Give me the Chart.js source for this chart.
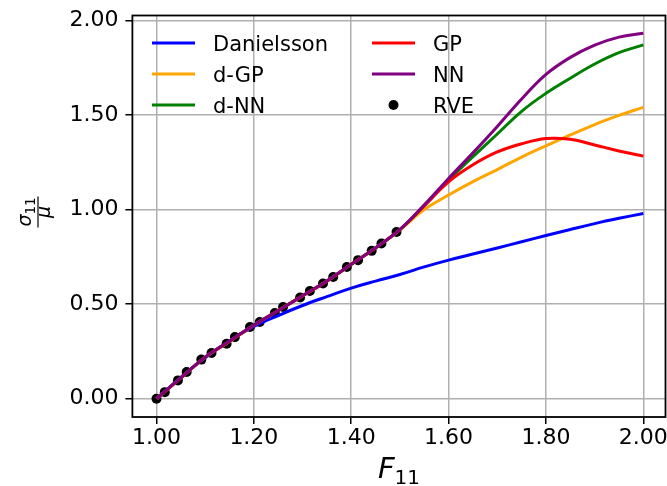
<!DOCTYPE html>
<html><head><meta charset="utf-8">
<script src="https://cdn.jsdelivr.net/npm/chart.js@4.4.0/dist/chart.umd.min.js"></script>
<style>html,body{margin:0;padding:0;background:#fff;overflow:hidden}#wrap{width:667px;height:486px;position:relative;overflow:hidden}canvas{display:block}</style>
</head><body><div id="wrap"><canvas id="c" width="700" height="486"></canvas></div>
<script>
// ---------- data ----------
const F = [1.00,1.05,1.10,1.15,1.20,1.25,1.30,1.35,1.40,1.45,1.50,1.55,1.60,1.65,1.70,1.75,1.80,1.85,1.90,1.95,2.00];
const danielsson = [0.000,0.112,0.216,0.305,0.382,0.440,0.493,0.540,0.585,0.622,0.657,0.697,0.733,0.765,0.797,0.830,0.863,0.895,0.926,0.954,0.980];
const dGP = [0.000,0.110,0.219,0.303,0.389,0.467,0.544,0.623,0.711,0.798,0.893,1.000,1.077,1.148,1.212,1.278,1.337,1.395,1.450,1.498,1.541];
const dNN = [0.000,0.111,0.220,0.304,0.390,0.466,0.545,0.622,0.710,0.797,0.894,1.022,1.156,1.280,1.400,1.520,1.615,1.695,1.770,1.830,1.871];
const GP  = [0.000,0.110,0.220,0.304,0.389,0.467,0.544,0.622,0.711,0.797,0.894,1.020,1.147,1.237,1.305,1.348,1.376,1.372,1.342,1.310,1.283];
const NN  = [0.000,0.111,0.220,0.305,0.390,0.466,0.545,0.623,0.711,0.798,0.895,1.025,1.165,1.300,1.440,1.585,1.715,1.805,1.870,1.912,1.933];
const rveF = [1.000,1.017,1.044,1.062,1.092,1.113,1.144,1.161,1.192,1.212,1.243,1.260,1.295,1.315,1.342,1.363,1.391,1.414,1.442,1.462,1.493];
const rveS = [0.000,0.035,0.097,0.141,0.207,0.242,0.291,0.326,0.379,0.406,0.453,0.485,0.535,0.570,0.609,0.644,0.697,0.733,0.782,0.821,0.882];
const xTicks = [1.00,1.20,1.40,1.60,1.80,2.00];
const yTicks = [0.00,0.50,1.00,1.50,2.00];
const names = ['Danielsson','d-GP','d-NN','GP','NN','RVE'];
const colors = ['#0000ff','#ffa500','#008000','#ff0000','#800080','#000000'];

// ---------- chart ----------
const FONT = 'DejaVu Sans';
const pts = (xs, ys) => xs.map((x, i) => ({x: x, y: ys[i]}));
const lineSets = [danielsson, dGP, dNN, GP, NN];
const datasets = lineSets.map((arr, i) => ({
  label: names[i], data: pts(F, arr), borderColor: colors[i], backgroundColor: colors[i],
  borderWidth: 3, pointRadius: 0, tension: 0.4, fill: false, order: 5 - i
}));
datasets.push({
  label: names[5], data: pts(rveF, rveS), showLine: false, pointRadius: 5,
  pointBackgroundColor: colors[5], pointBorderWidth: 0, borderColor: colors[5], order: 10
});

const deco = {
  id: 'deco',
  afterDatasetsDraw(chart) {
    const {ctx, chartArea: a} = chart;
    ctx.save();
    ctx.strokeStyle = '#000'; ctx.lineWidth = 1.8;
    ctx.strokeRect(a.left, a.top, a.right - a.left, a.bottom - a.top);
    ctx.restore();
  },
  afterDraw(chart) {
    const {ctx, chartArea: a} = chart;
    ctx.save();
    // legend (two columns, no frame)
    chart.data.datasets.forEach((ds, i) => {
      const col = Math.floor(i / 3), row = i % 3;
      const hx = 152 + col * 220, ty = 43 + row * 31;
      if (ds.showLine === false) {
        ctx.fillStyle = ds.pointBackgroundColor;
        ctx.beginPath(); ctx.arc(hx + 21.5, ty, 5, 0, Math.PI * 2); ctx.fill();
      } else {
        ctx.strokeStyle = ds.borderColor; ctx.lineWidth = 3;
        ctx.beginPath(); ctx.moveTo(hx, ty); ctx.lineTo(hx + 43, ty); ctx.stroke();
      }
      ctx.fillStyle = '#000'; ctx.font = '21px "' + FONT + '"';
      ctx.textAlign = 'left'; ctx.textBaseline = 'alphabetic';
      ctx.fillText(ds.label, hx + 61, ty + 7.8);
    });
    // x title: F_11
    const cx = (a.left + a.right) / 2;
    const fBig = 'italic 29px "' + FONT + '"', fSub = '20px "' + FONT + '"';
    ctx.font = fBig; const wF = ctx.measureText('F').width;
    ctx.font = fSub; const wS = ctx.measureText('11').width;
    const x0 = cx - (wF + wS) / 2;
    ctx.fillStyle = '#000'; ctx.textAlign = 'left'; ctx.textBaseline = 'alphabetic';
    ctx.font = fBig; ctx.fillText('F', x0, 478);
    ctx.font = fSub; ctx.fillText('11', x0 + wF, 484);
    // y title: sigma_11 / mu (rotated fraction)
    ctx.translate(38, 212);
    ctx.rotate(-Math.PI / 2);
    const fG = 'italic 19px "' + FONT + '"', fS = '13.5px "' + FONT + '"';
    ctx.font = fG; const wSig = ctx.measureText('σ').width; const wMu = ctx.measureText('μ').width;
    ctx.font = fS; const wSub = ctx.measureText('11').width;
    const numW = wSig + wSub;
    ctx.font = fG; ctx.fillText('σ', -numW / 2, -7);
    ctx.font = fS; ctx.fillText('11', -numW / 2 + wSig, -3);
    ctx.font = fG; ctx.fillText('μ', -wMu / 2, 12);
    ctx.lineWidth = 1.2; ctx.strokeStyle = '#000';
    ctx.beginPath(); ctx.moveTo(-numW / 2 - 1, 0); ctx.lineTo(numW / 2 + 1, 0); ctx.stroke();
    ctx.restore();
  }
};

const tickFont = {family: FONT, size: 22};
new Chart(document.getElementById('c'), {
  type: 'line',
  data: {datasets: datasets},
  plugins: [deco],
  options: {
    responsive: false, animation: false, devicePixelRatio: 1,
    layout: {padding: {top: 15.5, right: 34.5, bottom: 0, left: 0}},
    plugins: {legend: {display: false}, tooltip: {enabled: false}},
    scales: {
      x: {
        type: 'linear', min: 0.9505, max: 2.0455,
        afterBuildTicks: s => { s.ticks = xTicks.map(v => ({value: v})); },
        afterFit: s => { s.paddingLeft = 0; s.paddingRight = 0; s.height = 69; },
        ticks: {callback: v => Number(v).toFixed(2), font: tickFont, color: '#000', padding: 1, maxRotation: 0, autoSkip: false},
        grid: {color: '#b0b0b0', lineWidth: 1.5, tickLength: 7, tickColor: '#000', tickWidth: 1.5},
        border: {display: false}
      },
      y: {
        type: 'linear', min: -0.0965, max: 2.0265,
        afterBuildTicks: s => { s.ticks = yTicks.map(v => ({value: v})); },
        afterFit: s => { s.paddingTop = 0; s.paddingBottom = 0; s.width = 132.4; },
        ticks: {callback: v => Number(v).toFixed(2), font: tickFont, color: '#000', padding: 7, autoSkip: false},
        grid: {color: '#b0b0b0', lineWidth: 1.5, tickLength: 7, tickColor: '#000', tickWidth: 1.5},
        border: {display: false}
      }
    }
  }
});
</script></body></html>
